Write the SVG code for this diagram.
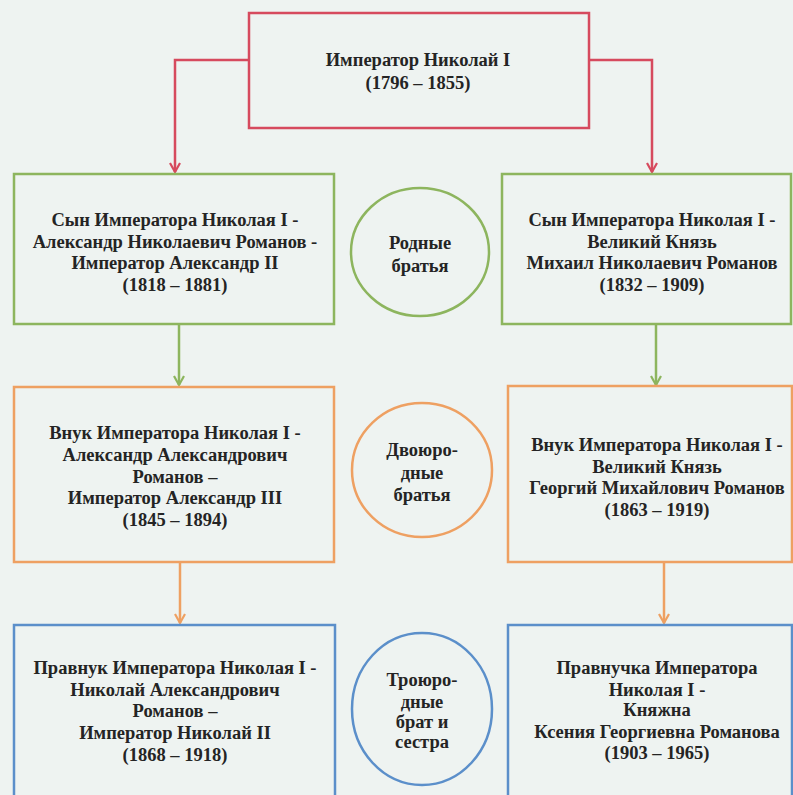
<svg xmlns="http://www.w3.org/2000/svg" width="793" height="795" viewBox="0 0 793 795">
<style>
.bg{fill:#eef3f1}
.box{fill:#eef3f1;stroke-width:2.5}
.red{stroke:#d64a5e}
.green{stroke:#8db55e}
.orange{stroke:#eea062}
.blue{stroke:#5b8fca}
text{font-family:'Liberation Serif','Times New Roman',serif;font-weight:bold;font-size:18.5px;fill:#242424;text-anchor:middle}
.conn{fill:none;stroke-width:2.5}
</style>
<defs>
<marker id="ah-red" viewBox="0 0 12 12" refX="10" refY="6" markerWidth="12" markerHeight="12" markerUnits="userSpaceOnUse" orient="auto"><polyline points="1,1 10,6 1,11" fill="none" stroke="#d64a5e" stroke-width="2.2"/></marker>
<marker id="ah-green" viewBox="0 0 12 12" refX="10" refY="6" markerWidth="12" markerHeight="12" markerUnits="userSpaceOnUse" orient="auto"><polyline points="1,1 10,6 1,11" fill="none" stroke="#8db55e" stroke-width="2.2"/></marker>
<marker id="ah-orange" viewBox="0 0 12 12" refX="10" refY="6" markerWidth="12" markerHeight="12" markerUnits="userSpaceOnUse" orient="auto"><polyline points="1,1 10,6 1,11" fill="none" stroke="#eea062" stroke-width="2.2"/></marker>
</defs>
<rect class="bg" x="0" y="0" width="793" height="795"/>
<g id="connectors">
<polyline class="conn red" points="249,60 175,60 175,172" marker-end="url(#ah-red)"/>
<polyline class="conn red" points="589,60 652,60 652,172" marker-end="url(#ah-red)"/>
<line class="conn green" x1="179" y1="324" x2="179" y2="385" marker-end="url(#ah-green)"/>
<line class="conn green" x1="656" y1="324" x2="656" y2="385" marker-end="url(#ah-green)"/>
<line class="conn orange" x1="180" y1="562" x2="180" y2="623" marker-end="url(#ah-orange)"/>
<line class="conn orange" x1="664" y1="562" x2="664" y2="623" marker-end="url(#ah-orange)"/>
</g>
<g id="nikolai1">
<rect class="box red" x="249" y="13" width="340" height="115"/>
<text x="418" y="66">Император Николай I</text>
<text x="418" y="89">(1796 – 1855)</text>
</g>
<g id="alexander2">
<rect class="box green" x="14" y="174" width="320" height="150"/>
<text x="175" y="226">Сын Императора Николая I -</text>
<text x="175" y="248">Александр Николаевич Романов -</text>
<text x="175" y="269">Император Александр II</text>
<text x="175" y="291">(1818 – 1881)</text>
</g>
<g id="mikhail">
<rect class="box green" x="502" y="174" width="289" height="150"/>
<text x="652" y="226">Сын Императора Николая I -</text>
<text x="652" y="248">Великий Князь</text>
<text x="652" y="269">Михаил Николаевич Романов</text>
<text x="652" y="291">(1832 – 1909)</text>
</g>
<g id="rel-siblings">
<ellipse class="box green" cx="420" cy="252" rx="69" ry="64"/>
<text x="420" y="249">Родные</text>
<text x="420" y="272">братья</text>
</g>
<g id="alexander3">
<rect class="box orange" x="14" y="387" width="320" height="175"/>
<text x="175" y="439">Внук Императора Николая I -</text>
<text x="175" y="461">Александр Александрович</text>
<text x="175" y="483">Романов –</text>
<text x="175" y="504">Император Александр III</text>
<text x="175" y="526">(1845 – 1894)</text>
</g>
<g id="georgy">
<rect class="box orange" x="508" y="386" width="284" height="176"/>
<text x="657" y="451">Внук Императора Николая I -</text>
<text x="657" y="473">Великий Князь</text>
<text x="657" y="494">Георгий Михайлович Романов</text>
<text x="657" y="516">(1863 – 1919)</text>
</g>
<g id="rel-cousins">
<ellipse class="box orange" cx="422" cy="470" rx="70" ry="67"/>
<text x="422" y="456">Двоюро-</text>
<text x="422" y="479">дные</text>
<text x="422" y="501">братья</text>
</g>
<g id="nikolai2">
<rect class="box blue" x="14" y="625" width="321" height="185"/>
<text x="175" y="674">Правнук Императора Николая I -</text>
<text x="175" y="696">Николай Александрович</text>
<text x="175" y="717">Романов –</text>
<text x="175" y="739">Император Николай II</text>
<text x="175" y="761">(1868 – 1918)</text>
</g>
<g id="xenia">
<rect class="box blue" x="508" y="625" width="284" height="185"/>
<text x="657" y="674">Правнучка Императора</text>
<text x="657" y="696">Николая I -</text>
<text x="657" y="716">Княжна</text>
<text x="657" y="738">Ксения Георгиевна Романова</text>
<text x="657" y="759">(1903 – 1965)</text>
</g>
<g id="rel-second-cousins">
<ellipse class="box blue" cx="422" cy="709" rx="70" ry="76"/>
<text x="422" y="686">Троюро-</text>
<text x="422" y="708">дные</text>
<text x="422" y="728">брат и</text>
<text x="422" y="748">сестра</text>
</g>
</svg>
